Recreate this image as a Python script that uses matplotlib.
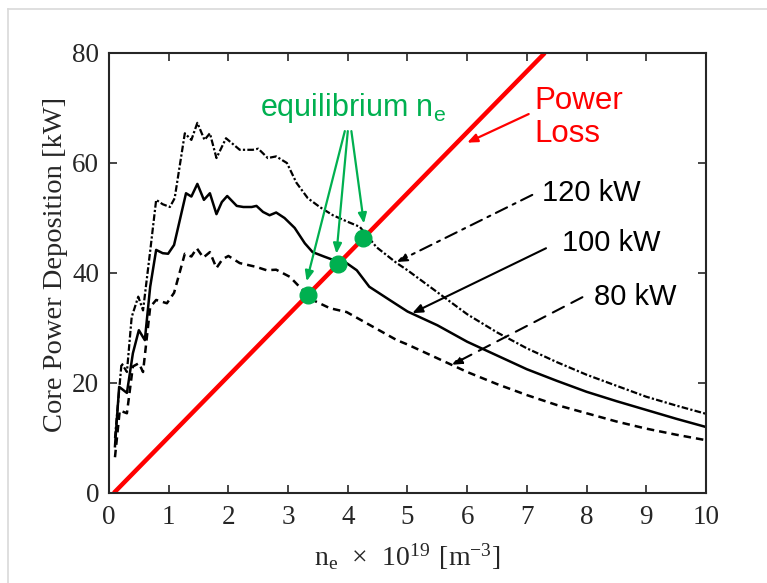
import matplotlib
matplotlib.use('Agg')
import matplotlib.pyplot as plt
from matplotlib.lines import Line2D

# density axis, 10^19 m^-3
ne_80 = [0.1, 0.18, 0.3, 0.4, 0.5, 0.57, 0.69, 0.79, 0.97, 1.09, 1.27, 1.38, 1.47, 1.58,
         1.69, 1.8, 1.9, 2.0, 2.19, 2.47, 2.64, 2.8, 3.03, 3.19, 3.41, 3.7, 3.98, 4.31,
         4.82, 5.0, 5.5, 6.0, 6.5, 7.0, 7.5, 8.0, 8.5, 9.0, 9.5, 10.0]
p_80 = [6.5, 15.0, 14.5, 23.0, 23.6, 22.0, 33.8, 35.1, 34.5, 36.4, 43.5, 43.0, 44.5, 42.8,
        43.8, 40.9, 42.5, 43.1, 41.8, 41.1, 40.5, 40.6, 39.3, 37.5, 35.1, 33.6, 32.9, 30.9,
        27.8, 27.0, 24.5, 22.0, 19.8, 17.8, 16.0, 14.5, 13.0, 11.7, 10.6, 9.6]

ne_100 = [0.1, 0.17, 0.3, 0.4, 0.5, 0.6, 0.69, 0.79, 0.9, 0.99, 1.09, 1.29, 1.38, 1.48,
          1.59, 1.69, 1.8, 1.89, 1.98, 2.14, 2.25, 2.39, 2.47, 2.58, 2.69, 2.8, 2.94,
          3.11, 3.28, 3.41, 3.6, 3.8, 3.98, 4.15, 4.36, 4.7, 5.0, 5.5, 6.0, 6.5, 7.0,
          7.5, 8.0, 8.5, 9.0, 9.5, 10.0]
p_100 = [8.5, 19.3, 18.2, 25.4, 29.6, 27.8, 37.5, 44.2, 43.6, 43.5, 45.1, 54.5, 53.9, 56.2,
         53.3, 54.5, 50.7, 52.9, 54.0, 52.2, 52.0, 52.0, 52.2, 51.1, 50.5, 51.0, 50.0,
         48.2, 45.4, 43.8, 43.0, 42.2, 41.8, 40.5, 37.5, 35.1, 33.0, 30.5, 27.5, 25.0, 22.5,
         20.4, 18.4, 16.7, 15.1, 13.5, 12.0]

ne_120 = [0.1, 0.21, 0.3, 0.38, 0.49, 0.57, 0.69, 0.79, 0.9, 1.02, 1.1, 1.27, 1.38, 1.48,
          1.6, 1.69, 1.8, 1.96, 2.19, 2.41, 2.5, 2.66, 2.8, 2.98, 3.14, 3.33, 3.53, 3.75,
          4.0, 4.2, 4.48, 4.82, 5.0, 5.5, 6.0, 6.5, 7.0, 7.5, 8.0, 8.5, 9.0, 9.5, 10.0]
p_120 = [10.0, 23.6, 22.0, 32.0, 35.7, 33.2, 44.0, 53.3, 52.5, 52.0, 53.6, 65.4, 64.2, 67.3,
         64.2, 65.4, 60.9, 64.5, 62.4, 62.4, 62.6, 60.9, 61.2, 60.0, 56.4, 53.6, 52.0, 50.5,
         49.3, 48.4, 44.7, 41.8, 40.5, 36.5, 32.5, 29.2, 26.3, 23.8, 21.5, 19.5, 17.5, 15.9,
         14.4]

# power loss line
ne_loss = [0.08, 7.3]
p_loss = [0.0, 80.0]

# equilibrium densities and powers
eq_ne = [3.33, 3.83, 4.26]
eq_p = [36.0, 41.7, 46.4]

xticks = list(range(0, 11))
yticks = [0, 20, 40, 60, 80]

green = '#00B050'
dark = '#262626'

fig = plt.figure(figsize=(7.67, 5.83), dpi=100)
ax = fig.add_axes([109 / 767, 1 - 493 / 583, (706 - 109) / 767, (493 - 53) / 583])

# faint frame around the picture
fig.add_artist(Line2D([8 / 767, 1], [1 - 9 / 583, 1 - 9 / 583], color='#d9d9d9', lw=1.2))
fig.add_artist(Line2D([8 / 767, 8 / 767], [0, 1 - 9 / 583], color='#d9d9d9', lw=1.2))

ax.plot(ne_80, p_80, color='black', lw=1.8, ls=(0, (3, 2)))
ax.plot(ne_100, p_100, color='black', lw=1.8, ls='-')
ax.plot(ne_120, p_120, color='black', lw=1.6, ls=(0, (3, 1, 1, 1)))
ax.plot(ne_loss, p_loss, color='red', lw=3.2, solid_capstyle='butt')
ax.plot(eq_ne, eq_p, 'o', color=green, ms=12, zorder=5)

ax.set_xlim(0, 10)
ax.set_ylim(0, 80)
ax.set_xticks(xticks)
ax.set_yticks(yticks)

serif = ['Liberation Serif', 'DejaVu Serif']
for lab in ax.get_xticklabels() + ax.get_yticklabels():
    lab.set_family(serif)
    lab.set_fontsize(19.5)
    lab.set_color(dark)
ax.tick_params(direction='in', top=True, right=True, length=6, width=1.2, color=dark)
ax.tick_params(axis='x', pad=9)
ax.tick_params(axis='y', pad=7)
for s in ax.spines.values():
    s.set_color(dark)
    s.set_linewidth(1.5)

ax.set_xlabel(r'$\mathregular{n_e\ \times\ 10^{19}\ [m^{-3}]}$', fontsize=20, family=serif,
              color=dark, labelpad=8)
ax.set_ylabel('Core Power Deposition [kW]', fontsize=20.5, family=serif, color=dark, labelpad=4)
ax.yaxis.set_label_coords(-0.069, 0.52)

sans = ['Liberation Sans', 'DejaVu Sans']

# equilibrium annotation
ax.text(4.08, 70.0, r'equilibrium n$_\mathregular{e}$', color=green, fontsize=22, family=sans,
        ha='center', va='center')
starts = [3.95, 4.0, 4.06]
tips = [(3.31, 38.5), (3.81, 43.5), (4.27, 49.0)]
for sx, (tx, ty) in zip(starts, tips):
    ax.annotate('', xy=(tx, ty), xytext=(sx, 65.8),
                arrowprops=dict(arrowstyle='-|>,head_length=0.6,head_width=0.25',
                                color=green, lw=1.6, shrinkA=0, shrinkB=0))

# power loss annotation
ax.text(7.12, 68.3, 'Power\nLoss', color='red', fontsize=22.5, family=sans,
        ha='left', va='center', linespacing=1.1)
ax.annotate('', xy=(6.0, 63.7), xytext=(7.03, 68.9),
            arrowprops=dict(arrowstyle='-|>,head_length=0.6,head_width=0.25',
                            color='red', lw=1.6, shrinkA=0, shrinkB=0))

# power labels
labels = ['120 kW', '100 kW', '80 kW']
label_pos = [(7.26, 54.6), (7.59, 45.5), (8.12, 35.6)]
arrow_from = [(7.09, 54.2), (7.32, 44.5), (7.93, 35.6)]
arrow_to = [(4.82, 42.0), (5.08, 32.7), (5.74, 23.3)]
arrow_ls = [(0, (6, 3, 1.5, 3)), '-', (0, (6, 4))]
for lab, (lx, ly), (fx, fy), (tx, ty), ls in zip(labels, label_pos, arrow_from, arrow_to, arrow_ls):
    ax.text(lx, ly, lab, color='black', fontsize=21, family=sans, ha='left', va='center')
    ax.annotate('', xy=(tx, ty), xytext=(fx, fy),
                arrowprops=dict(arrowstyle='-|>,head_length=0.6,head_width=0.25',
                                color='black', lw=1.5, ls=ls, shrinkA=0, shrinkB=0))

fig.savefig('out.png', dpi=100)
